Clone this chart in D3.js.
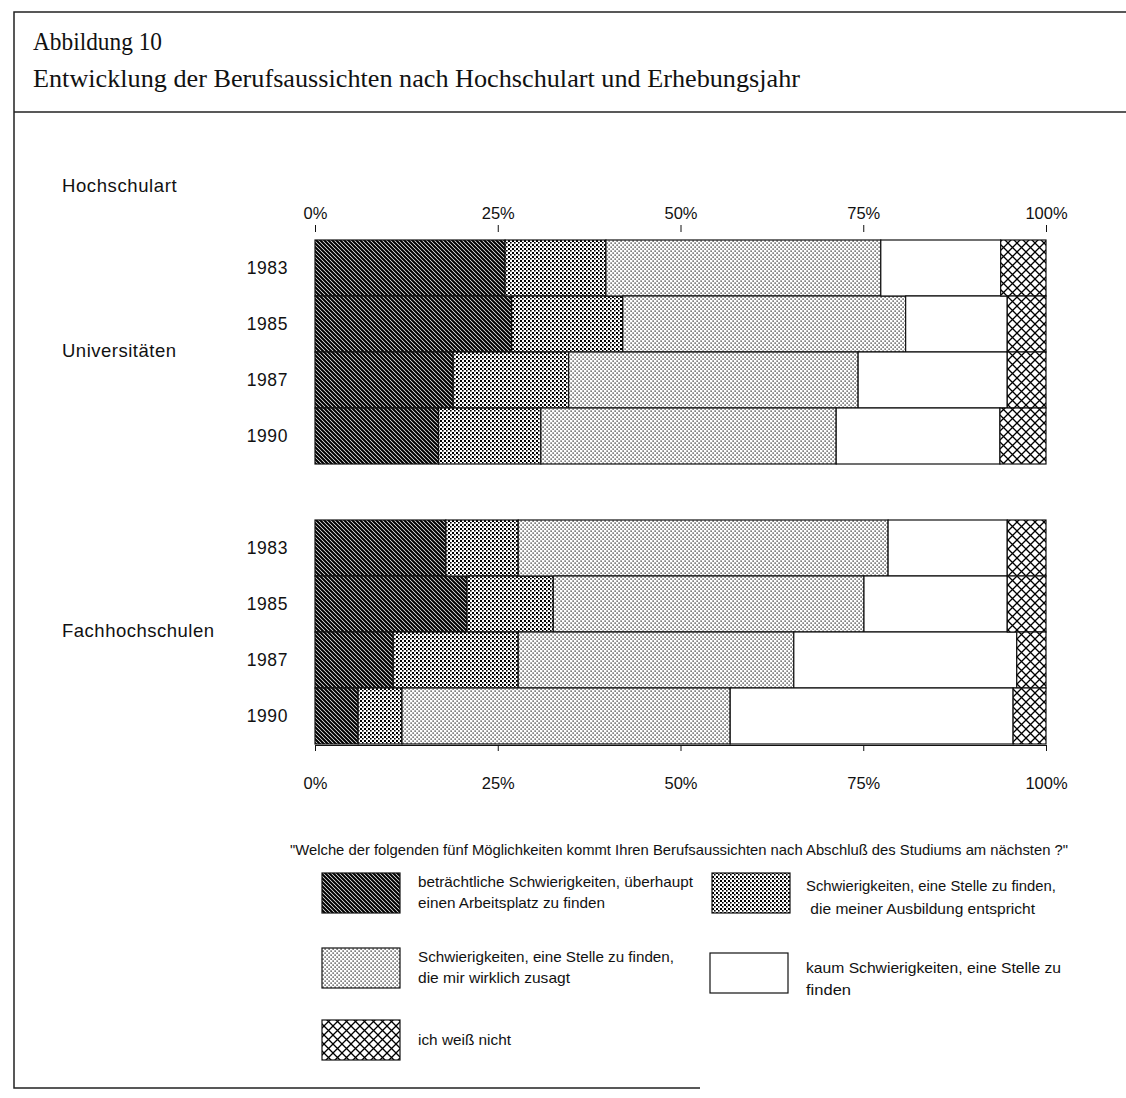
<!DOCTYPE html>
<html>
<head>
<meta charset="utf-8">
<script src="https://cdn.jsdelivr.net/npm/d3@7/dist/d3.min.js"></script>
<style>
  html, body { margin: 0; padding: 0; background: #fff; }
  svg { display: block; }
  .sans { font-family: "Liberation Sans", Arial, sans-serif; fill: #111; }
  .serif { font-family: "Liberation Serif", "Times New Roman", serif; fill: #111; }
</style>
</head>
<body>
<svg id="chart" width="1126" height="1098"></svg>
<script>
// ---------- DATA ----------
const years = ["1983", "1985", "1987", "1990"];
const groupNames = ["Universitäten", "Fachhochschulen"];
const seriesKeys = ["betr", "ausb", "zusagt", "kaum", "weiss"];
const seriesLabels = [
  ["beträchtliche Schwierigkeiten, überhaupt", "einen Arbeitsplatz zu finden"],
  ["Schwierigkeiten, eine Stelle zu finden,", " die meiner Ausbildung entspricht"],
  ["Schwierigkeiten, eine Stelle zu finden,", "die mir wirklich zusagt"],
  ["kaum Schwierigkeiten, eine Stelle zu", "finden"],
  ["ich weiß nicht"]
];
// Universitäten (percent per year)
const uniBetr   = [26.0, 26.9, 18.9, 16.9];
const uniAusb   = [13.8, 15.2, 15.8, 14.0];
const uniZusagt = [37.6, 38.7, 39.6, 40.4];
const uniKaum   = [16.4, 13.9, 20.4, 22.4];
const uniWeiss  = [6.2, 5.3, 5.3, 6.3];
// Fachhochschulen (percent per year)
const fhBetr    = [17.9, 20.8, 10.7, 5.9];
const fhAusb    = [9.9, 11.8, 17.1, 6.0];
const fhZusagt  = [50.6, 42.5, 37.7, 44.9];
const fhKaum    = [16.3, 19.6, 30.5, 38.7];
const fhWeiss   = [5.3, 5.3, 4.0, 4.5];
const tickValues = [0, 25, 50, 75, 100];
const tickLabels = ["0%", "25%", "50%", "75%", "100%"];
const titleLine1 = "Abbildung 10";
const titleLine2 = "Entwicklung der Berufsaussichten nach Hochschulart und Erhebungsjahr";
const question = "\"Welche der folgenden fünf Möglichkeiten kommt Ihren Berufsaussichten nach Abschluß des Studiums am nächsten ?\"";

// ---------- SETUP ----------
const svg = d3.select("#chart");
const defs = svg.append("defs");

// patterns
function pat(id, w, h) {
  const p = defs.append("pattern").attr("id", id)
    .attr("patternUnits", "userSpaceOnUse").attr("width", w).attr("height", h);
  p.append("rect").attr("width", w).attr("height", h).attr("fill", "#fff");
  return p;
}
const pDark = pat("p-betr", 4, 4);
pDark.append("path").attr("d", "M-1,-1 L5,5 M-1,3 L1,5 M3,-1 L5,1")
  .attr("stroke", "#000").attr("stroke-width", 2.1);
const pMid = pat("p-ausb", 4, 4);
pMid.append("rect").attr("x", 0).attr("y", 0).attr("width", 2).attr("height", 2).attr("fill", "#000");
pMid.append("rect").attr("x", 2).attr("y", 2).attr("width", 1.6).attr("height", 1.6).attr("fill", "#000");
const pLight = pat("p-zusagt", 4, 4);
pLight.append("rect").attr("x", 0.5).attr("y", 0.5).attr("width", 1.2).attr("height", 1.2).attr("fill", "#000");
pLight.append("rect").attr("x", 2.5).attr("y", 2.5).attr("width", 1.2).attr("height", 1.2).attr("fill", "#000");
const pCross = pat("p-weiss", 9, 9);
pCross.append("path").attr("d", "M0,0 L9,9 M9,0 L0,9")
  .attr("stroke", "#000").attr("stroke-width", 1.3);

const fills = {
  betr: "url(#p-betr)", ausb: "url(#p-ausb)", zusagt: "url(#p-zusagt)",
  kaum: "#ffffff", weiss: "url(#p-weiss)"
};

// ---------- FRAME & TITLE ----------
svg.append("path").attr("d", "M1126,12 L14,12 L14,1088 L700,1088")
  .attr("fill", "none").attr("stroke", "#222").attr("stroke-width", 1.5);
svg.append("line").attr("x1", 14).attr("x2", 1126).attr("y1", 112).attr("y2", 112)
  .attr("stroke", "#222").attr("stroke-width", 1.5);
svg.append("text").attr("class", "serif").attr("x", 33).attr("y", 50)
  .attr("font-size", 26).attr("textLength", 129).attr("lengthAdjust", "spacingAndGlyphs")
  .text(titleLine1);
svg.append("text").attr("class", "serif").attr("x", 33).attr("y", 87)
  .attr("font-size", 26).attr("textLength", 767).attr("lengthAdjust", "spacingAndGlyphs")
  .text(titleLine2);

// ---------- SCALES ----------
const x = d3.scaleLinear().domain([0, 100]).range([315, 1046]);
const groupRanges = [[240, 464], [520, 744]];
const groupData = [
  [uniBetr, uniAusb, uniZusagt, uniKaum, uniWeiss],
  [fhBetr, fhAusb, fhZusagt, fhKaum, fhWeiss]
];
const stack = d3.stack().keys(seriesKeys);

groupData.forEach((arrs, gi) => {
  const rows = years.map((yr, i) => {
    const r = { year: yr };
    seriesKeys.forEach((k, j) => r[k] = arrs[j][i]);
    return r;
  });
  const y = d3.scaleBand().domain(years).range(groupRanges[gi]).padding(0);
  const stacked = stack(rows);
  const g = svg.append("g");
  stacked.forEach(layer => {
    g.selectAll(null).data(layer).enter().append("rect")
      .attr("x", d => x(d[0]))
      .attr("y", d => y(d.data.year))
      .attr("width", d => x(d[1]) - x(d[0]))
      .attr("height", y.bandwidth())
      .attr("fill", fills[layer.key])
      .attr("stroke", "#111").attr("stroke-width", 1.2);
  });
  // year labels
  svg.append("g").selectAll("text").data(years).enter().append("text")
    .attr("class", "sans").attr("font-size", 17.5).attr("letter-spacing", 0.6)
    .attr("text-anchor", "end")
    .attr("x", 288).attr("y", d => y(d) + y.bandwidth() / 2 + 6)
    .text(d => d);
  // group label
  const mid = (groupRanges[gi][0] + groupRanges[gi][1]) / 2;
  svg.append("text").attr("class", "sans").attr("font-size", 18.5).attr("letter-spacing", 0.5)
    .attr("x", 62).attr("y", mid + 5).text(groupNames[gi]);
});

svg.append("text").attr("class", "sans").attr("font-size", 18.5).attr("letter-spacing", 0.6)
  .attr("x", 62).attr("y", 192).text("Hochschulart");

// ---------- AXES ----------
const fmt = d => tickLabels[tickValues.indexOf(d)];
const topAxis = svg.append("g").attr("transform", "translate(0,232)")
  .call(d3.axisTop(x).tickValues(tickValues).tickFormat(fmt).tickSize(7).tickSizeOuter(0).tickPadding(6));
topAxis.select(".domain").remove();
const botAxis = svg.append("g").attr("transform", "translate(0,745)")
  .call(d3.axisBottom(x).tickValues(tickValues).tickFormat(fmt).tickSize(6).tickSizeOuter(0).tickPadding(26));
[topAxis, botAxis].forEach(a => {
  a.selectAll("text").attr("font-family", "\"Liberation Sans\", Arial, sans-serif")
    .attr("font-size", 16.5).attr("fill", "#111");
  a.selectAll("line").attr("stroke", "#111");
  a.selectAll("path").attr("stroke", "#111");
});

// ---------- LEGEND ----------
svg.append("text").attr("class", "sans").attr("font-size", 14.5)
  .attr("x", 290).attr("y", 855).attr("textLength", 778).attr("lengthAdjust", "spacingAndGlyphs")
  .text(question);

const legendPos = [
  { sx: 322, sy: 873, tx: 418, ty: [887, 908], w: [275, 187] },
  { sx: 712, sy: 873, tx: 806, ty: [891, 914], w: [250, 229] },
  { sx: 322, sy: 948, tx: 418, ty: [962, 983], w: [256, 152] },
  { sx: 710, sy: 953, tx: 806, ty: [973, 995], w: [255, 45] },
  { sx: 322, sy: 1020, tx: 418, ty: [1045], w: [93] }
];
seriesKeys.forEach((k, i) => {
  const p = legendPos[i];
  svg.append("rect").attr("x", p.sx).attr("y", p.sy).attr("width", 78).attr("height", 40)
    .attr("fill", fills[k]).attr("stroke", "#111").attr("stroke-width", 1.2);
  seriesLabels[i].forEach((line, li) => {
    svg.append("text").attr("class", "sans").attr("font-size", 15)
      .attr("x", p.tx).attr("y", p.ty[li]).attr("xml:space", "preserve")
      .style("white-space", "pre")
      .attr("textLength", p.w[li]).attr("lengthAdjust", "spacingAndGlyphs")
      .text(line);
  });
});
</script>
</body>
</html>
